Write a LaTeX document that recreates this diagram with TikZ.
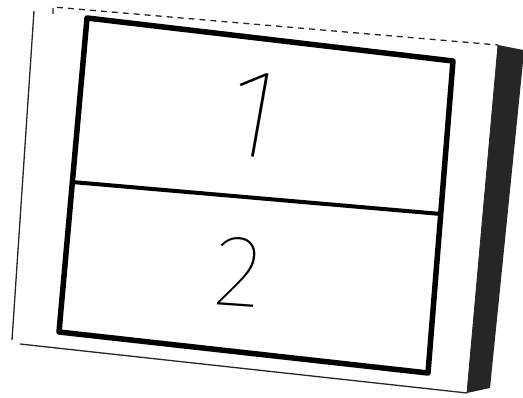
\documentclass[tikz,border=0pt]{standalone}
\usepackage{fontspec}
\newfontfamily\handfont{Fira Sans Thin}
\usetikzlibrary{positioning}

\begin{document}
\begin{tikzpicture}[
  x=1pt, y=-1pt,
  frame/.style={
      draw,
      line width=5.5pt,
      line join=round
  },
  divider/.style={
      draw,
      line width=4pt
  },
  paper/.style={
      draw=black!85,
      line width=1.3pt
  },
  digit/.style={
      inner sep=0pt,
      font=\handfont
  }
]
\useasboundingbox (0,0) rectangle (523,398);

% sheet of paper and its shadow
\coordinate (ptl) at (34,11);
\coordinate (ptr) at (498,45);
\coordinate (pbr) at (467,393);
\coordinate (pbl) at (12,340);
\fill[black!85] (ptr) -- (523,50) -- (523,62) -- (490,388) -- (pbr) -- cycle;
\draw[paper, dash pattern=on 6pt off 5pt] (53,14) -- (53,7) -- (ptr);
\draw[paper] (ptl) -- (pbl);
\draw[paper] (20,344) -- (pbr);
\draw[paper, line width=0.8pt] (ptr) -- (pbr);

% the box
\coordinate (tl) at (87,18);
\coordinate (tr) at (453,61);
\coordinate (br) at (428,373);
\coordinate (bl) at (59,332);
\coordinate (ml) at (72,182);
\coordinate (mr) at (441,214);

\draw[frame] (tl) -- (tr) -- (br) -- (bl) -- cycle;
\draw[divider] (ml) -- (mr);

\node[digit, font=\handfont\fontsize{128}{128}\selectfont, rotate=-10] (one) at (254,114) {1};
\node[digit, font=\handfont\fontsize{102}{102}\selectfont, rotate=-4] (two) at (238,272) {2};

\end{tikzpicture}
\end{document}
